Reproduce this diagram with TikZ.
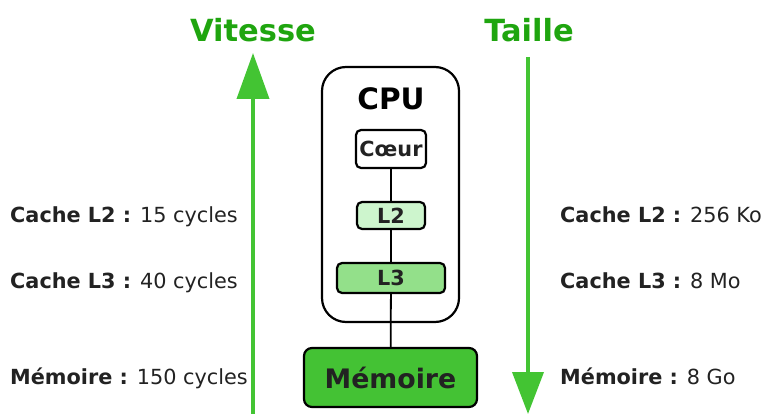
\documentclass[tikz,border=0pt]{standalone}
\usepackage{fontspec}
\setmainfont{DejaVu Sans}
\usetikzlibrary{arrows.meta}
\definecolor{titlegreen}{HTML}{1FA50F}
\definecolor{arrowgreen}{HTML}{43C433}
\definecolor{lvltwo}{HTML}{CDF5CD}
\definecolor{lvlthree}{HTML}{93E08A}
\definecolor{memgreen}{HTML}{44C234}
\definecolor{txt}{HTML}{222222}
\begin{document}
\begin{tikzpicture}[x=1pt,y=-1pt,
  title/.style={font=\fontsize{30.5}{35}\selectfont\bfseries, text=titlegreen, anchor=base, inner sep=0},
  info/.style={font=\fontsize{20.8}{25}\selectfont, text=txt, anchor=base west, inner sep=0},
  block/.style={draw=black, line width=2.2pt, rounded corners=5pt, inner sep=0,
    font=\fontsize{20.8}{25}\selectfont\bfseries, text=txt},
  link/.style={draw=black, line width=1.8pt},
  axis/.style={draw=arrowgreen, line width=3.8pt}]
\useasboundingbox (0,0) rectangle (762,414);

% headings above the two axes
\node[title] (speed) at (253,42) {Vitesse};
\node[title] (size) at (529,42) {Taille};

% axes
\coordinate (speedlow) at (253,414);
\coordinate (speedhigh) at (253,53);
\coordinate (sizetop) at (528,57);
\coordinate (sizebot) at (528,414);
\draw[axis, -{Triangle[width=32pt,length=46pt]}] (speedlow) -- (speedhigh);
\draw[axis, -{Triangle[width=31pt,length=42pt]}] (sizetop) -- (sizebot);

% processor package
\node[draw=black, line width=2.2pt, rounded corners=24pt, minimum width=137pt, minimum height=255pt, inner sep=0]
  (cpu) at (390.5,194.5) {};
\node[font=\fontsize{29.5}{34}\selectfont\bfseries, anchor=base, inner sep=0] (cpulabel) at (391,110) {CPU};

\node[block, fill=white, minimum width=70pt, minimum height=38pt] (core) at (391,149) {C\oe ur};
\node[block, fill=lvltwo, minimum width=68pt, minimum height=27pt] (ltwo) at (391,215.5) {L2};
\node[block, fill=lvlthree, minimum width=108pt, minimum height=30pt] (lthree) at (391,278) {L3};
\node[block, fill=memgreen, rounded corners=8pt, minimum width=173pt, minimum height=59pt,
  font=\fontsize{26.8}{31}\selectfont\bfseries] (mem) at (390.5,377.5) {Mémoire};

\draw[link] (core) -- (ltwo);
\draw[link] (ltwo) -- (lthree);
\draw[link] (lthree) -- (mem);

% latencies
\node[info] (latl2) at (10,222) {\textbf{Cache L2 :} 15 cycles};
\node[info] (latl3) at (10,288) {\textbf{Cache L3 :} 40 cycles};
\node[info] (latmem) at (10,384) {\textbf{Mémoire :} 150 cycles};

% capacities
\node[info] (capl2) at (560,222) {\textbf{Cache L2 :} 256 Ko};
\node[info] (capl3) at (560,288) {\textbf{Cache L3 :} 8 Mo};
\node[info] (capmem) at (560,384) {\textbf{Mémoire :} 8 Go};
\end{tikzpicture}
\end{document}
